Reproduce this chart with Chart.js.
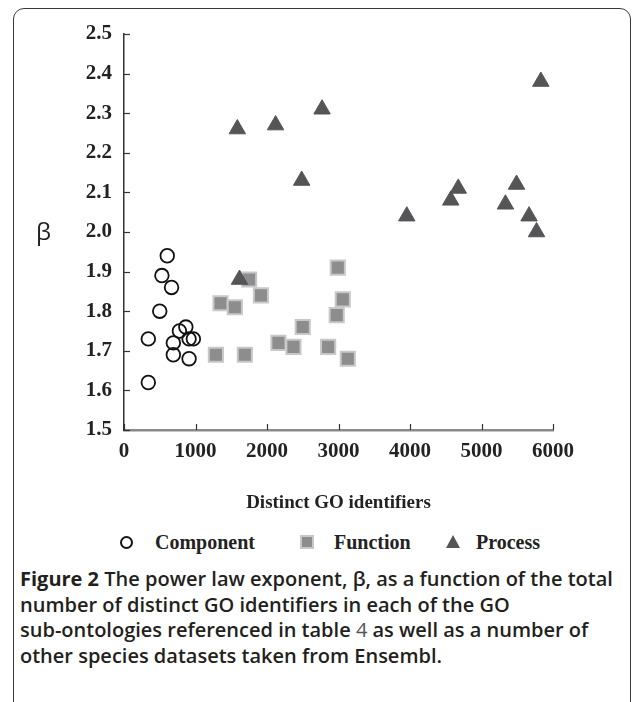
<!DOCTYPE html>
<html>
<head>
<meta charset="utf-8">
<script src="https://cdn.jsdelivr.net/npm/chart.js@4.4.1/dist/chart.umd.min.js"></script>
<style>
  html, body { margin: 0; padding: 0; background: #fff; }
  body { width: 632px; height: 702px; position: relative; overflow: hidden; }
  #frame { position: absolute; left: 13px; top: 8px; width: 616px; height: 760px;
    border: 1.5px solid #3a3a3a; border-radius: 11px; }
  #wrap { position: absolute; left: 0; top: 0; width: 632px; height: 520px; }
  #beta { position: absolute; left: 36px; top: 214px; font: 400 24px "Open Sans", sans-serif; color: #222; }
  #legend { position: absolute; top: 530px; left: 0; width: 632px; height: 24px;
    font: bold 20px "Liberation Serif", serif; color: #222; }
  #legend span { position: absolute; top: 0; line-height: 24px; }
  .mk { position: absolute; }
  #caption { position: absolute; left: 20px; top: 566px; font: 600 20px "Open Sans", sans-serif;
    color: #231f20; line-height: 25.7px; white-space: nowrap; }
  #caption b { font-weight: 700; }
  #caption .ref { font-weight: 400; color: #555; }
</style>
</head>
<body>
<div id="frame"></div>
<div id="wrap"><canvas id="myChart" width="632" height="520"></canvas></div>
<div id="beta">β</div>
<div id="legend"></div>
<div id="caption"><b>Figure 2</b> The power law exponent, β, as a function of the total<br>number of distinct GO identifiers in each of the GO<br>sub-ontologies referenced in table <span class="ref">4</span> as well as a number of<br>other species datasets taken from Ensembl.</div>
<script>
// data
let seriesNames = ['Component', 'Function', 'Process'];

let componentX = [340, 340, 500, 530, 605, 665, 690, 690, 775, 865, 910, 910, 970];
let componentY = [1.73, 1.62, 1.80, 1.89, 1.94, 1.86, 1.72, 1.69, 1.75, 1.76, 1.73, 1.68, 1.73];

let functionX = [1285, 1350, 1550, 1690, 1750, 1915, 2160, 2370, 2500, 2855, 2975, 2990, 3060, 3130];
let functionY = [1.69, 1.82, 1.81, 1.69, 1.88, 1.84, 1.72, 1.71, 1.76, 1.71, 1.79, 1.91, 1.83, 1.68];

let processX = [1585, 1615, 2120, 2485, 2770, 3955, 4570, 4675, 5335, 5490, 5665, 5770, 5830];
let processY = [2.26, 1.88, 2.27, 2.13, 2.31, 2.04, 2.08, 2.11, 2.07, 2.12, 2.04, 2.00, 2.38];

let xTicks = [0, 1000, 2000, 3000, 4000, 5000, 6000];
let yTicks = [1.5, 1.6, 1.7, 1.8, 1.9, 2.0, 2.1, 2.2, 2.3, 2.4, 2.5];

function pts(xs, ys) {
  return xs.map((x, i) => ({x: x, y: ys[i]}));
}

// inward tick marks like the original
const innerTicks = {
  id: 'innerTicks',
  afterDraw(chart) {
    const c = chart.ctx, xs = chart.scales.x, ys = chart.scales.y;
    c.save();
    c.strokeStyle = '#333';
    c.lineWidth = 1.2;
    xTicks.forEach(v => {
      const px = Math.round(xs.getPixelForValue(v)) + 0.5;
      c.beginPath(); c.moveTo(px, ys.bottom); c.lineTo(px, ys.bottom - 6); c.stroke();
    });
    yTicks.forEach(v => {
      const py = Math.round(ys.getPixelForValue(v)) + 0.5;
      c.beginPath(); c.moveTo(xs.left, py); c.lineTo(xs.left + 6, py); c.stroke();
    });
    c.restore();
  }
};

let ctx = document.getElementById('myChart').getContext('2d');
let tickFont = {family: 'Liberation Serif', weight: 'bold', size: 21};

let myChart = new Chart(ctx, {
  type: 'scatter',
  data: {
    datasets: [{
      label: seriesNames[0],
      data: pts(componentX, componentY),
      pointStyle: 'circle',
      pointRadius: 6.8,
      borderWidth: 1.8,
      borderColor: '#111',
      backgroundColor: 'rgba(0,0,0,0)',
      order: 0
    }, {
      label: seriesNames[1],
      data: pts(functionX, functionY),
      pointStyle: 'rect',
      pointRadius: 10,
      borderWidth: 2,
      borderColor: '#c8c8c8',
      backgroundColor: '#8d8d8f',
      order: 2
    }, {
      label: seriesNames[2],
      data: pts(processX, processY),
      pointStyle: 'triangle',
      pointRadius: 9.5,
      borderWidth: 1,
      borderColor: '#555558',
      backgroundColor: '#555558',
      order: 1
    }]
  },
  options: {
    responsive: false,
    animation: false,
    layout: { padding: { top: 34, left: 0, right: 79, bottom: 0 } },
    plugins: { legend: { display: false }, tooltip: { enabled: false } },
    scales: {
      x: {
        type: 'linear',
        min: 0, max: 6000,
        afterBuildTicks: (s) => { s.ticks = xTicks.map(v => ({value: v})); },
        afterFit: (s) => { s.height = 90; },
        grid: { drawOnChartArea: false, drawTicks: false },
        border: { color: '#8a8a8a', width: 2.5 },
        ticks: { font: tickFont, color: '#222', padding: 9, maxRotation: 0, callback: (v) => String(v) },
        title: {
          display: true,
          text: 'Distinct GO identifiers',
          font: {family: 'Liberation Serif', weight: 'bold', size: 19},
          color: '#222',
          padding: { top: 0, bottom: 6 }
        }
      },
      y: {
        min: 1.5, max: 2.5,
        afterBuildTicks: (s) => { s.ticks = yTicks.map(v => ({value: v})); },
        afterFit: (s) => { s.width = 124; },
        grid: { drawOnChartArea: false, drawTicks: false },
        border: { color: '#333', width: 1.5 },
        ticks: { font: tickFont, color: '#222', padding: 12, callback: (v) => v.toFixed(1) }
      }
    }
  },
  plugins: [innerTicks]
});

// legend (same colours as the datasets)
let legend = document.getElementById('legend');
let legendMarks = [
  '<div class="mk" style="left:120px;top:6px;width:9px;height:9px;border:2px solid #111;border-radius:50%"></div>',
  '<div class="mk" style="left:300px;top:5px;width:10px;height:10px;border:2px solid #c8c8c8;background:#8d8d8f"></div>',
  '<div class="mk" style="left:446px;top:5px;width:0;height:0;border-left:7px solid transparent;border-right:7px solid transparent;border-bottom:13px solid #555558"></div>'
];
let legendTextX = [155, 334, 476];
legendMarks.forEach((m, i) => {
  legend.insertAdjacentHTML('beforeend', m + '<span style="left:' + legendTextX[i] + 'px">' + seriesNames[i] + '</span>');
});
</script>
</body>
</html>
